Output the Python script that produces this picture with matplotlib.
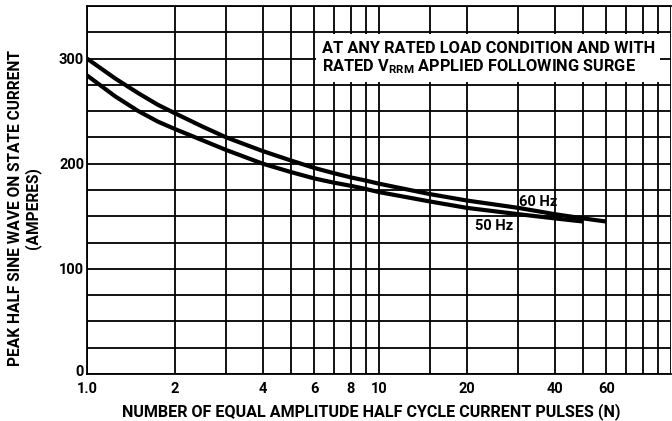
import matplotlib
matplotlib.use("Agg")
import matplotlib.pyplot as plt
from matplotlib.patches import Rectangle
from matplotlib.ticker import FixedLocator, NullFormatter
from matplotlib.transforms import ScaledTranslation

# ---- data ----
n_60 = [1, 1.25, 1.5, 1.75, 2, 2.5, 3, 4, 5, 6, 7, 8, 9, 10, 15, 20, 30, 40, 50, 60]
i_60 = [300, 281, 267, 256, 248, 235, 225, 212, 203, 196, 191, 187, 184, 181, 171, 165, 158, 152, 148, 145]
n_50 = [1, 1.25, 1.5, 1.75, 2, 2.5, 3, 4, 5, 6, 7, 8, 9, 10, 15, 20, 30, 40, 50]
i_50 = [284, 264, 250, 240, 233, 222, 213, 200, 192, 186, 182, 179, 176, 173, 164, 158, 152, 148, 145]

x_major = [1, 2, 4, 6, 8, 10, 20, 40, 60]
x_major_labels = ["1.0", "2", "4", "6", "8", "10", "20", "40", "60"]
x_minor = [3, 5, 7, 9, 15, 30, 50, 70, 80, 90, 100]
y_major = [0, 100, 200, 300]
y_minor = [25, 50, 75, 125, 150, 175, 225, 250, 275, 325, 350]

FONT = ["Roboto", "DejaVu Sans"]
plt.rcParams["font.family"] = FONT
plt.rcParams["font.weight"] = "bold"
plt.rcParams["mathtext.fontset"] = "custom"
plt.rcParams["mathtext.rm"] = "Roboto:bold"
plt.rcParams["mathtext.it"] = "Roboto:bold"
plt.rcParams["mathtext.bf"] = "Roboto:bold"

fig = plt.figure(figsize=(6.72, 4.21), dpi=100)
ax = fig.add_axes([87 / 672, 1 - 374 / 421, (671 - 87) / 672, (374 - 6) / 421])

ax.set_xscale("log")
ax.set_xlim(1, 100)
ax.set_ylim(0, 350)

ax.xaxis.set_major_locator(FixedLocator(x_major))
ax.set_xticklabels(x_major_labels)
ax.xaxis.set_minor_locator(FixedLocator(x_minor))
ax.xaxis.set_minor_formatter(NullFormatter())
ax.yaxis.set_major_locator(FixedLocator(y_major))
ax.yaxis.set_minor_locator(FixedLocator(y_minor))

ax.set_axisbelow(True)
ax.grid(True, which="both", color="black", linewidth=1.3)
ax.tick_params(which="both", length=0, labelsize=10.5, pad=2)
ax.tick_params(axis="x", pad=5.5)
for lab in ax.get_xticklabels() + ax.get_yticklabels():
    lab.set_fontweight("bold")
for sp in ax.spines.values():
    sp.set_linewidth(1.3)
ax.spines["right"].set_visible(False)

# lift the "0" label slightly, as in the reference
zero_tick = ax.yaxis.get_major_ticks()[0]
zero_tick.label1.set_transform(zero_tick.label1.get_transform()
                               + ScaledTranslation(0, 3 / 100, fig.dpi_scale_trans))

ax.plot(n_60, i_60, color="black", linewidth=3.0, solid_capstyle="butt",
        solid_joinstyle="round", zorder=3)
ax.plot(n_50, i_50, color="black", linewidth=3.0, solid_capstyle="butt",
        solid_joinstyle="round", zorder=3)

ax.text(35, 164, "60 Hz", fontsize=10.5, fontweight="bold", ha="center", va="center", zorder=4)
ax.text(24.8, 141, "50 Hz", fontsize=10.5, fontweight="bold", ha="center", va="center", zorder=4)

# white note box
ax.add_patch(Rectangle((6.1, 278), 91.7 - 6.1, 323 - 278, facecolor="white",
                       edgecolor="none", zorder=2))
ax.text(6.4, 310, "AT ANY RATED LOAD CONDITION AND WITH", fontsize=11.8,
        fontweight="bold", ha="left", va="center", zorder=4)
ax.text(6.4, 292, r"RATED V$_{\mathrm{RRM}}$ APPLIED FOLLOWING SURGE", fontsize=11.8,
        fontweight="bold", ha="left", va="center", zorder=4)

ax.set_xlabel("NUMBER OF EQUAL AMPLITUDE HALF CYCLE CURRENT PULSES (N)",
              fontsize=11.6, fontweight="bold")
ax.xaxis.set_label_coords((371 - 87) / (671 - 87), -(403 - 374) / 368)
ax.set_ylabel("PEAK HALF SINE WAVE ON STATE CURRENT\n(AMPERES)",
              fontsize=11.2, fontweight="bold", linespacing=1.1)
ax.yaxis.set_label_coords(-(87 - 41) / 584, (374 - 208) / 368)

fig.savefig("out.png", dpi=100)
